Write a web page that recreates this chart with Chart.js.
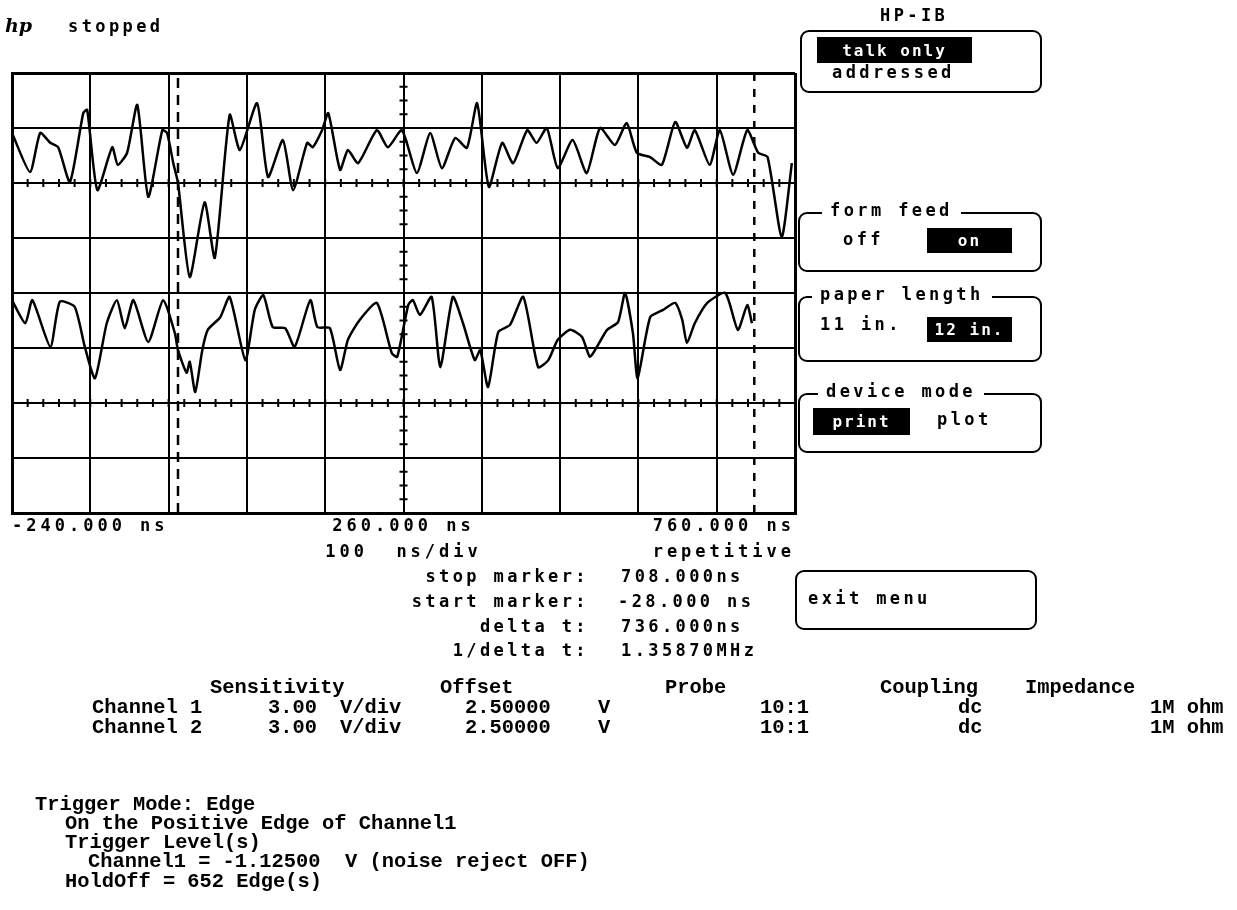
<!DOCTYPE html>
<html>
<head>
<meta charset="utf-8">
<script src="https://cdn.jsdelivr.net/npm/chart.js@4.4.1/dist/chart.umd.min.js"></script>
<style>
  html, body { margin: 0; padding: 0; background: #fff; }
  #page { position: relative; width: 1237px; height: 910px; overflow: hidden; background: #fff; }
  #scope { position: absolute; left: 0; top: 0; }
  .s { position: absolute; font-family: 'DejaVu Sans Mono', monospace; font-weight: bold; font-size: 17px;
       line-height: 17px; letter-spacing: 3.4px; white-space: pre; color: #000; }
  .p { position: absolute; font-family: 'Liberation Mono', 'Courier New', monospace; font-weight: bold; font-size: 20.4px;
       line-height: 20px; white-space: pre; color: #000; }
  .box { position: absolute; border: 2.5px solid #000; border-radius: 9px; box-sizing: border-box; }
  .hl { position: absolute; background: #000; color: #fff; font-family: 'DejaVu Sans Mono', monospace; font-weight: bold;
        font-size: 16px; letter-spacing: 2px; display: flex; align-items: center; justify-content: center; white-space: pre; }
  .lbl { background: #fff; padding: 0 8px; }
</style>
</head>
<body>
<div id="page">
  <canvas id="scope" width="1237" height="910"></canvas>

  <div class="s" style="left:5px; top:17px; font-family:'DejaVu Serif', serif; font-style:italic; font-size:19px; letter-spacing:0;">hp</div>
  <div class="s" style="left:68px; top:18px;">stopped</div>

  <div class="s" style="left:880px; top:7px;">HP-IB</div>
  <div class="box" style="left:800px; top:30px; width:242px; height:63px;"></div>
  <div class="hl" style="left:817px; top:37px; width:155px; height:26px;">talk only</div>
  <div class="s" style="left:832px; top:64px;">addressed</div>

  <div class="box" style="left:798px; top:212px; width:244px; height:60px;"></div>
  <div class="s lbl" style="left:822px; top:202px;">form feed</div>
  <div class="s" style="left:843px; top:231px;">off</div>
  <div class="hl" style="left:927px; top:228px; width:85px; height:25px;">on</div>

  <div class="box" style="left:798px; top:296px; width:244px; height:66px;"></div>
  <div class="s lbl" style="left:812px; top:286px;">paper length</div>
  <div class="s" style="left:820px; top:316px;">11 in.</div>
  <div class="hl" style="left:927px; top:317px; width:85px; height:25px;">12 in.</div>

  <div class="box" style="left:798px; top:393px; width:244px; height:60px;"></div>
  <div class="s lbl" style="left:818px; top:383px;">device mode</div>
  <div class="hl" style="left:813px; top:408px; width:97px; height:27px;">print</div>
  <div class="s" style="left:937px; top:411px;">plot</div>

  <div class="box" style="left:795px; top:570px; width:242px; height:60px;"></div>
  <div class="s" style="left:808px; top:590px;">exit menu</div>

  <div class="s" style="left:360px; width:229px; text-align:right; top:568px;">stop marker:</div>
  <div class="s" style="left:360px; width:229px; text-align:right; top:593px;">start marker:</div>
  <div class="s" style="left:360px; width:229px; text-align:right; top:618px;">delta t:</div>
  <div class="s" style="left:360px; width:229px; text-align:right; top:642px;">1/delta t:</div>
  <div class="s" style="left:621px; top:568px;">708.000ns</div>
  <div class="s" style="left:618px; top:593px;">-28.000 ns</div>
  <div class="s" style="left:621px; top:618px;">736.000ns</div>
  <div class="s" style="left:621px; top:642px;">1.35870MHz</div>

  <div class="p" style="left:210px; top:678px;">Sensitivity</div>
  <div class="p" style="left:440px; top:678px;">Offset</div>
  <div class="p" style="left:665px; top:678px;">Probe</div>
  <div class="p" style="left:880px; top:678px;">Coupling</div>
  <div class="p" style="left:1025px; top:678px;">Impedance</div>

  <div class="p" style="left:92px; top:698px;">Channel 1</div>
  <div class="p" style="left:268px; top:698px;">3.00</div>
  <div class="p" style="left:340px; top:698px;">V/div</div>
  <div class="p" style="left:465px; top:698px;">2.50000</div>
  <div class="p" style="left:598px; top:698px;">V</div>
  <div class="p" style="left:760px; top:698px;">10:1</div>
  <div class="p" style="left:958px; top:698px;">dc</div>
  <div class="p" style="left:1150px; top:698px;">1M ohm</div>

  <div class="p" style="left:92px; top:718px;">Channel 2</div>
  <div class="p" style="left:268px; top:718px;">3.00</div>
  <div class="p" style="left:340px; top:718px;">V/div</div>
  <div class="p" style="left:465px; top:718px;">2.50000</div>
  <div class="p" style="left:598px; top:718px;">V</div>
  <div class="p" style="left:760px; top:718px;">10:1</div>
  <div class="p" style="left:958px; top:718px;">dc</div>
  <div class="p" style="left:1150px; top:718px;">1M ohm</div>

  <div class="p" style="left:35px; top:795px;">Trigger Mode: Edge</div>
  <div class="p" style="left:65px; top:814px;">On the Positive Edge of Channel1</div>
  <div class="p" style="left:65px; top:833px;">Trigger Level(s)</div>
  <div class="p" style="left:88px; top:852px;">Channel1 = -1.12500  V (noise reject OFF)</div>
  <div class="p" style="left:65px; top:872px;">HoldOff = 652 Edge(s)</div>
</div>

<script>
// time axis (ns) and screen divisions (8 vertical divisions, 0 = bottom)
const timeGrid = [-240, -140, -40, 60, 160, 260, 360, 460, 560, 660, 760];
const divGrid = [0, 1, 2, 3, 4, 5, 6, 7, 8];
const timeLabels = {
  '-240': '-240.000 ns',
  '260': ['260.000 ns', '100  ns/div'],
  '760': ['760.000 ns', 'repetitive']
};

// channel 1 trace (upper half of the screen)
const ch1Times = [-240, -217, -204, -191, -181, -166, -149, -144, -131, -112,
  -105, -93, -80, -66, -48, -42, -34, -28, -13, 6,
  19, 38, 51, 73, 87, 106, 119, 137, 144, 156,
  164, 179, 189, 202, 226, 240, 258, 277, 294, 309,
  326, 341, 354, 369, 386, 400, 418, 430, 443, 457,
  476, 494, 511, 530, 545, 558, 575, 590, 607, 622,
  632, 651, 664, 681, 699, 713, 725, 743, 756];
const ch1Div = [6.91, 6.20, 6.91, 6.73, 6.65, 6.02, 7.27, 7.33, 5.87, 6.65,
  6.33, 6.55, 7.42, 5.75, 6.96, 6.91, 6.36, 6.00, 4.29, 5.65,
  4.64, 7.24, 6.60, 7.45, 6.11, 6.78, 5.87, 6.73, 6.65, 6.96,
  7.27, 6.24, 6.60, 6.36, 6.96, 6.65, 6.96, 6.18, 6.91, 6.27,
  6.82, 6.64, 7.45, 5.93, 6.73, 6.36, 6.96, 6.73, 7.00, 6.27,
  6.78, 6.18, 7.00, 6.69, 7.09, 6.55, 6.47, 6.33, 7.11, 6.64,
  6.96, 6.33, 6.96, 6.15, 6.96, 6.55, 6.47, 5.02, 6.36];

// channel 2 trace (lower half)
const ch2Times = [-240, -223, -214, -191, -179, -160, -147, -134, -119, -106,
  -96, -85, -66, -47, -32, -28, -17, -13, -6, 3,
  10, 26, 38, 58, 70, 81, 93, 109, 121, 141,
  150, 166, 179, 189, 204, 226, 245, 252, 266, 272,
  281, 296, 307, 323, 336, 351, 358, 368, 381, 396,
  413, 432, 445, 457, 473, 488, 498, 507, 520, 534,
  543, 553, 559, 575, 591, 607, 616, 622, 632, 648,
  671, 687, 699, 705];
const ch2Div = [3.87, 3.45, 3.87, 3.02, 3.84, 3.75, 3.02, 2.45, 3.45, 3.87,
  3.36, 3.87, 3.11, 3.87, 3.27, 2.96, 2.55, 2.75, 2.20, 2.96,
  3.33, 3.56, 3.93, 2.78, 3.69, 3.96, 3.38, 3.36, 3.02, 3.87,
  3.38, 3.36, 2.60, 3.15, 3.51, 3.82, 2.91, 2.84, 3.78, 3.87,
  3.60, 3.93, 2.65, 3.93, 3.45, 2.78, 2.96, 2.29, 3.29, 3.42,
  3.93, 2.65, 2.78, 3.15, 3.33, 3.20, 2.84, 3.02, 3.33, 3.47,
  4.00, 3.27, 2.45, 3.56, 3.69, 3.82, 3.51, 3.09, 3.45, 3.82,
  4.00, 3.33, 3.78, 3.45];

// start / stop markers (ns)
const startMarker = -28;
const stopMarker = 708;

function points(xs, ys) {
  return xs.map((x, i) => ({ x: x, y: ys[i] }));
}
function markerLine(t) {
  return [{ x: t, y: divGrid[0] }, { x: t, y: divGrid[divGrid.length - 1] }];
}

// small cross ticks on the centre graticule lines
const graticuleTicks = {
  id: 'graticuleTicks',
  beforeDatasetsDraw(chart) {
    const ctx = chart.ctx, xs = chart.scales.x, ys = chart.scales.y;
    ctx.save();
    ctx.strokeStyle = '#000';
    ctx.lineWidth = 2;
    ctx.beginPath();
    [6, 2].forEach(level => {
      const py = ys.getPixelForValue(level);
      for (let t = -240; t <= 760; t += 20) {
        const px = xs.getPixelForValue(t);
        ctx.moveTo(px, py - 4);
        ctx.lineTo(px, py + 4);
      }
    });
    const cx = xs.getPixelForValue(260);
    for (let d = 0; d <= 8; d += 0.25) {
      const py = ys.getPixelForValue(d);
      ctx.moveTo(cx - 4, py);
      ctx.lineTo(cx + 4, py);
    }
    ctx.stroke();
    ctx.restore();
  }
};

// wide spacing of the scope's screen font
const screenFont = {
  id: 'screenFont',
  beforeDraw(chart) { chart.ctx.letterSpacing = '4px'; },
  afterDraw(chart) { chart.ctx.letterSpacing = '0px'; }
};

const edgeWidth = ctx => (ctx.index === 0 || ctx.index === ctx.scale.ticks.length - 1) ? 3 : 2;

const ctx = document.getElementById('scope').getContext('2d');
const chart = new Chart(ctx, {
  type: 'line',
  data: {
    datasets: [
      { label: 'Channel 1', data: points(ch1Times, ch1Div), borderColor: '#000', borderWidth: 2.5,
        pointRadius: 0, tension: 0.2 },
      { label: 'Channel 2', data: points(ch2Times, ch2Div), borderColor: '#000', borderWidth: 2.5,
        pointRadius: 0, tension: 0.2 },
      { label: 'start marker', data: markerLine(startMarker), borderColor: '#000', borderWidth: 2.5,
        borderDash: [10, 7], pointRadius: 0 },
      { label: 'stop marker', data: markerLine(stopMarker), borderColor: '#000', borderWidth: 2.5,
        borderDash: [8, 8], pointRadius: 0 }
    ]
  },
  options: {
    responsive: false,
    animation: false,
    devicePixelRatio: 1,
    layout: { padding: { left: 12, top: 73, right: 442, bottom: 337 } },
    plugins: {
      legend: { display: false },
      tooltip: { enabled: false }
    },
    scales: {
      x: {
        type: 'linear',
        min: timeGrid[0],
        max: timeGrid[timeGrid.length - 1],
        afterBuildTicks: s => { s.ticks = timeGrid.map(v => ({ value: v })); },
        afterFit: s => { s.height = 60; },
        grid: { color: '#000', lineWidth: edgeWidth, drawTicks: false },
        border: { color: '#000', width: 3 },
        ticks: {
          autoSkip: false,
          maxRotation: 0,
          align: 'inner',
          padding: 0,
          color: '#000',
          font: { family: 'DejaVu Sans Mono', size: 17, weight: 'bold', lineHeight: 1.55 },
          callback: v => timeLabels[String(v)] || ''
        }
      },
      y: {
        min: divGrid[0],
        max: divGrid[divGrid.length - 1],
        afterBuildTicks: s => { s.ticks = divGrid.map(v => ({ value: v })); },
        afterFit: s => { s.width = 0; },
        grid: { color: '#000', lineWidth: edgeWidth, drawTicks: false },
        border: { color: '#000', width: 3 },
        ticks: { display: false }
      }
    }
  },
  plugins: [graticuleTicks, screenFont]
});
</script>
</body>
</html>
